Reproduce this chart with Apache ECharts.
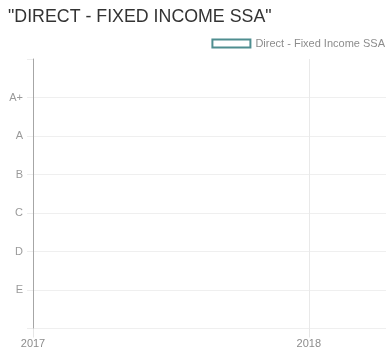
<!DOCTYPE html>
<html>
<head>
<meta charset="utf-8">
<script src="https://cdn.jsdelivr.net/npm/echarts@6/dist/echarts.min.js"></script>
<style>
  html, body { margin: 0; padding: 0; background: #fff; }
  #chart { width: 387px; height: 351px; }
</style>
</head>
<body>
<div id="chart"></div>
<script>
// Rating scale, bottom to top (positions 0..7 on the value axis)
const ratingLabels = ['', 'E', 'D', 'C', 'B', 'A', 'A+', ''];
// Year ticks shown along the time axis
const yearTicks = [2017, 2018];
// Series: rating history (no observations recorded)
const seriesName = 'Direct - Fixed Income SSA';
const ratingYears = [];
const ratingValues = [];

const seriesData = ratingYears.map((y, i) => [y, ratingValues[i]]);

const FONT = '"Liberation Sans", Arial, Helvetica, sans-serif';
const chart = echarts.init(document.getElementById('chart'), null, { renderer: 'canvas' });

chart.setOption({
  animation: false,
  backgroundColor: '#ffffff',
  title: {
    text: '"DIRECT - FIXED INCOME SSA"',
    left: 8,
    top: 8,
    padding: 0,
    textStyle: { fontFamily: FONT, fontSize: 17.8, fontWeight: 'normal', color: '#333333' }
  },
  legend: {
    right: 2,
    top: 38,
    padding: 0,
    itemWidth: 38,
    itemHeight: 8,
    textStyle: { fontFamily: FONT, fontSize: 11, color: '#8c8c8c' },
    data: [{
      name: seriesName,
      icon: 'rect',
      itemStyle: { color: '#ffffff', borderColor: '#4f8e90', borderWidth: 2 }
    }]
  },
  grid: {
    left: 33,
    top: 59,
    bottom: 22.5,
    right: 1,
    containLabel: false
  },
  xAxis: {
    type: 'value',
    min: yearTicks[0],
    // the time range runs a little past the last year tick
    max: 2018.28,
    interval: 1,
    axisLine: { show: false },
    axisTick: { show: true, customValues: yearTicks, length: 9, lineStyle: { color: '#e6e6e6', width: 1 } },
    axisLabel: {
      margin: 10,
      fontFamily: FONT,
      fontSize: 11,
      color: '#8c8c8c',
      showMaxLabel: false,
      formatter: v => (yearTicks.indexOf(v) >= 0 ? String(v) : '')
    },
    splitLine: { show: true, showMinLine: false, lineStyle: { color: '#e9e9e9', width: 1 } }
  },
  yAxis: {
    type: 'value',
    min: 0,
    max: ratingLabels.length - 1,
    interval: 1,
    axisLine: { show: true, lineStyle: { color: '#a6a6a6', width: 1 } },
    axisTick: { show: true, length: 6, lineStyle: { color: '#ededed' } },
    axisLabel: {
      margin: 10,
      fontFamily: FONT,
      fontSize: 11,
      color: '#9a9a9a',
      formatter: v => ratingLabels[v] || ''
    },
    splitLine: { show: true, showMaxLine: false, lineStyle: { color: '#efefef', width: 1 } }
  },
  series: [{
    name: seriesName,
    type: 'line',
    data: seriesData,
    itemStyle: { color: '#4f8e90' },
    lineStyle: { color: '#4f8e90', width: 2 }
  }]
});
</script>
</body>
</html>
